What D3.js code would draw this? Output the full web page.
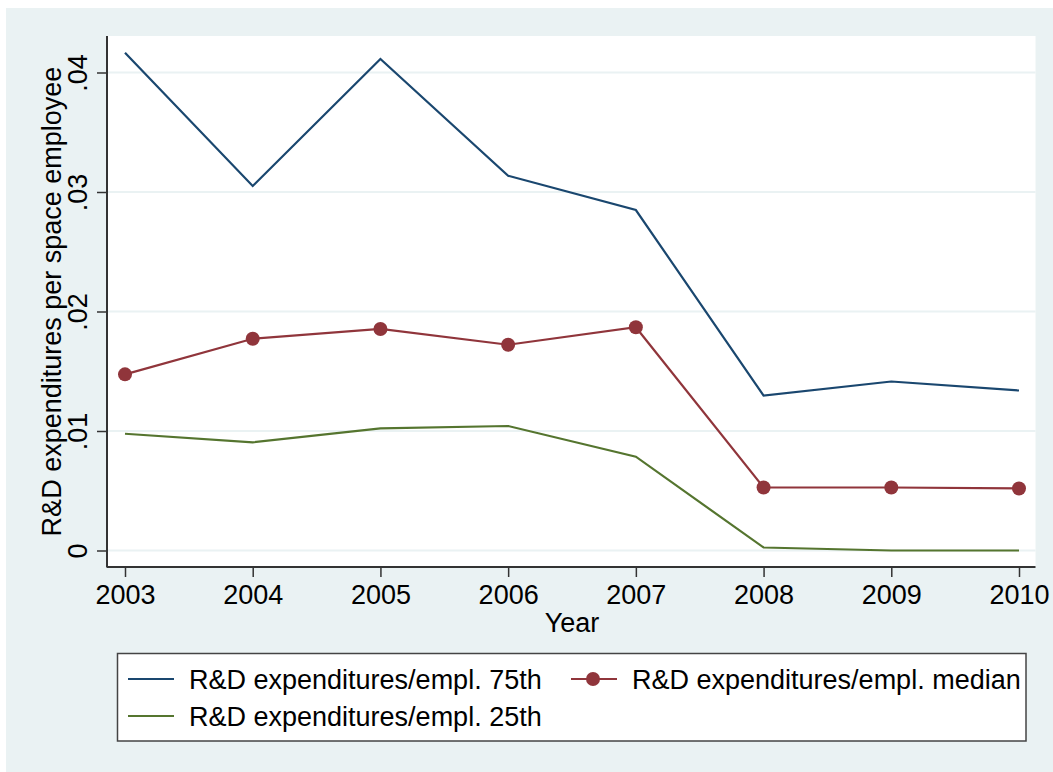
<!DOCTYPE html>
<html><head><meta charset="utf-8">
<script src="https://cdn.jsdelivr.net/npm/d3@7"></script>
<style>
html,body{margin:0;padding:0;background:#fff;}
text{font-family:"Liberation Sans",Arial,sans-serif;fill:#000;}
</style></head>
<body>
<svg id="chart" width="1053" height="772"></svg>
<script>
const years = [2003, 2004, 2005, 2006, 2007, 2008, 2009, 2010];
const p75 = [0.04166, 0.0305, 0.04113, 0.03136, 0.02849, 0.01297, 0.01414, 0.01339];
const median = [0.01474, 0.01772, 0.01854, 0.01722, 0.01868, 0.00527, 0.00527, 0.00519];
const p25 = [0.00977, 0.00905, 0.01022, 0.01042, 0.00785, 0.00025, 0.0, 0.0];
const yTicks = [0, 0.01, 0.02, 0.03, 0.04];
const yTickLabels = ["0", ".01", ".02", ".03", ".04"];
const legendLabels = ["R&D expenditures/empl. 75th", "R&D expenditures/empl. median", "R&D expenditures/empl. 25th"];
const colors = {p75: "#1a476f", med: "#90353b", p25: "#55752f"};
const FS = 27;

const svg = d3.select("#chart");
const bg = "#eaf2f3";
svg.append("rect").attr("x", 6).attr("y", 8).attr("width", 1047).attr("height", 764).attr("fill", bg);

const L = 107, R = 1035.5, T = 36, B = 567;
svg.append("rect").attr("x", L).attr("y", T).attr("width", R - L).attr("height", B - T).attr("fill", "#fff");

const x = d3.scaleLinear().domain([2003, 2010]).range([125, 1019]);
const y = d3.scaleLinear().domain([0, 0.04]).range([550.5, 72.5]);

// gridlines
svg.append("g").selectAll("line").data(yTicks).join("line")
  .attr("x1", L).attr("x2", R).attr("y1", d => y(d)).attr("y2", d => y(d))
  .attr("stroke", bg).attr("stroke-width", 2);

// y axis
const yAxis = d3.axisLeft(y).tickValues(yTicks).tickFormat((d, i) => yTickLabels[i]).tickSize(10).tickPadding(0);
const gy = svg.append("g").attr("transform", `translate(${L},0)`).call(yAxis);
gy.select(".domain").remove();
gy.selectAll(".tick line").attr("stroke", "#333").attr("stroke-width", 1.5);
gy.selectAll(".tick text").remove();
gy.selectAll(".tick").append("text")
  .attr("transform", "translate(-20,0) rotate(-90)")
  .attr("text-anchor", "middle").attr("font-size", FS).attr("fill", "#000")
  .text((d, i) => yTickLabels[i]);
svg.append("line").attr("x1", L).attr("x2", L).attr("y1", T).attr("y2", B + 0.5)
  .attr("stroke", "#333").attr("stroke-width", 2);

// x axis
const xAxis = d3.axisBottom(x).tickValues(years).tickFormat(d3.format("d")).tickSize(10).tickPadding(8);
const gx = svg.append("g").attr("transform", `translate(0,${B})`).call(xAxis);
gx.select(".domain").remove();
gx.selectAll(".tick line").attr("stroke", "#333").attr("stroke-width", 1.5);
gx.selectAll(".tick text").attr("font-size", FS).attr("font-family", "Liberation Sans, Arial, sans-serif").attr("fill", "#000");
svg.append("line").attr("x1", L).attr("x2", R).attr("y1", B).attr("y2", B)
  .attr("stroke", "#333").attr("stroke-width", 2);

// axis titles
svg.append("text").attr("transform", `translate(61,${(T + B) / 2}) rotate(-90)`)
  .attr("text-anchor", "middle").attr("font-size", FS).text("R&D expenditures per space employee");
svg.append("text").attr("x", 572).attr("y", 632).attr("text-anchor", "middle").attr("font-size", FS).text("Year");

// lines
const line = d3.line().x((d, i) => x(years[i])).y(d => y(d));
svg.append("path").datum(p75).attr("d", line).attr("fill", "none").attr("stroke", colors.p75).attr("stroke-width", 2.2);
svg.append("path").datum(p25).attr("d", line).attr("fill", "none").attr("stroke", colors.p25).attr("stroke-width", 2.2);
svg.append("path").datum(median).attr("d", line).attr("fill", "none").attr("stroke", colors.med).attr("stroke-width", 2.2);
svg.append("g").selectAll("circle").data(median).join("circle")
  .attr("cx", (d, i) => x(years[i])).attr("cy", d => y(d)).attr("r", 7).attr("fill", colors.med);

// legend
svg.append("rect").attr("x", 117.5).attr("y", 653.5).attr("width", 908.5).attr("height", 87.5)
  .attr("fill", "#fff").attr("stroke", "#444").attr("stroke-width", 1.5);
const leg = [
  {lx: 128, ty: 689, label: legendLabels[0], c: colors.p75, m: false},
  {lx: 571, ty: 689, label: legendLabels[1], c: colors.med, m: true},
  {lx: 128, ty: 726, label: legendLabels[2], c: colors.p25, m: false}
];
leg.forEach(d => {
  const cy = d.ty - 10;
  svg.append("line").attr("x1", d.lx).attr("x2", d.lx + 46).attr("y1", cy).attr("y2", cy)
    .attr("stroke", d.c).attr("stroke-width", 2.2);
  if (d.m) svg.append("circle").attr("cx", d.lx + 22).attr("cy", cy).attr("r", 7).attr("fill", d.c);
  svg.append("text").attr("x", d.lx + 61).attr("y", d.ty).attr("font-size", FS).text(d.label);
});
</script>
</body></html>
